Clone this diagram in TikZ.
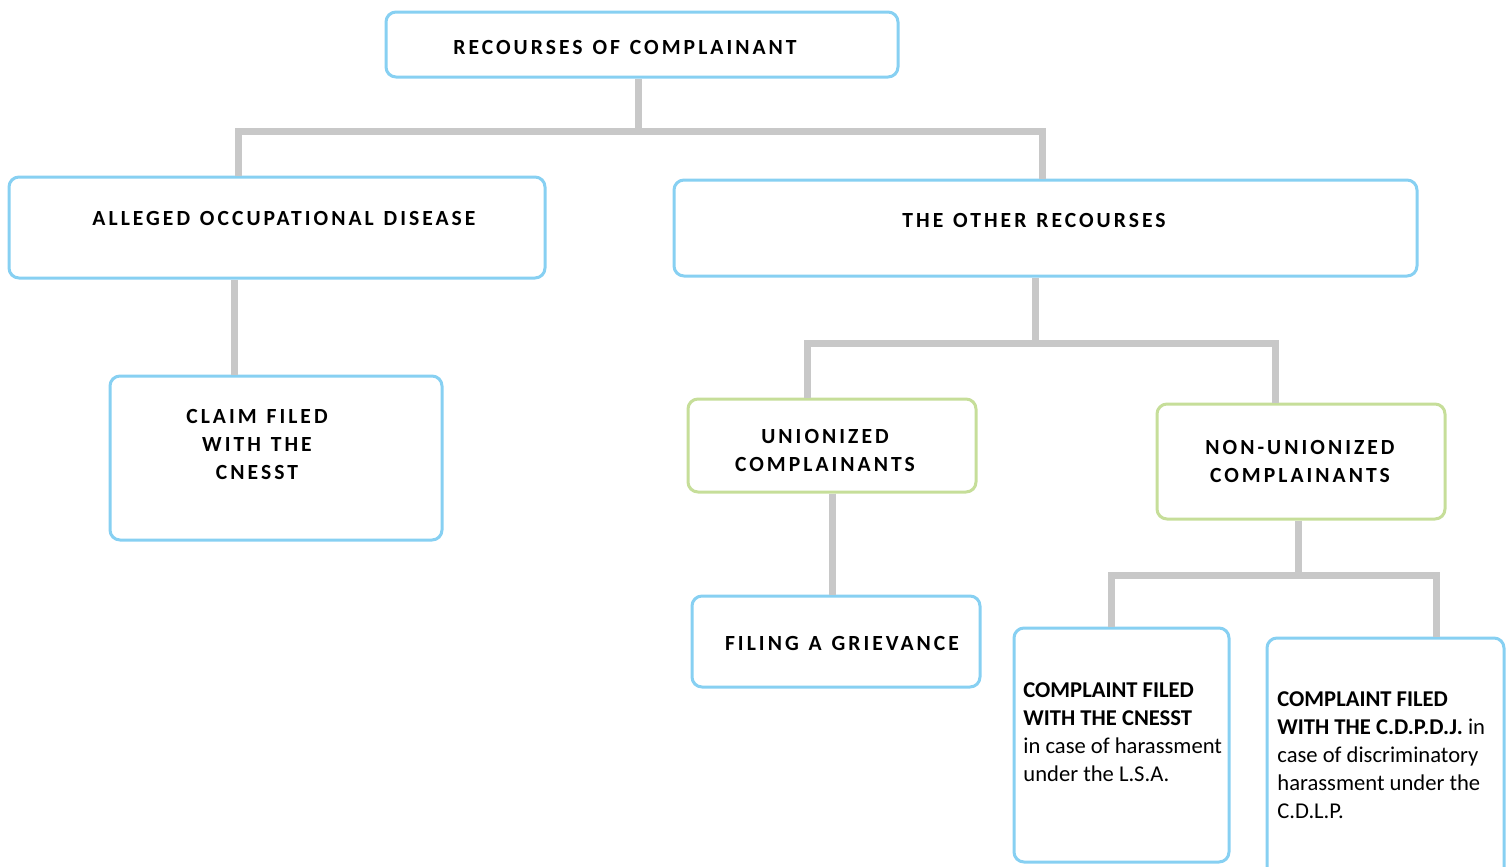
\documentclass[tikz,border=0pt]{standalone}
\usepackage{fontspec}
\setmainfont{Carlito}
\newfontfamily\spaced[LetterSpace=14, WordSpace=1.25]{Carlito}
\definecolor{boxblue}{RGB}{135,208,242}
\definecolor{boxgreen}{RGB}{198,222,153}
\definecolor{linkgrey}{RGB}{200,200,200}

\tikzset{
  box/.style={draw=boxblue, line width=1.5pt, rounded corners=5pt, fill=white, inner sep=0pt},
  greenbox/.style={box, draw=boxgreen},
  head/.style={font=\spaced\fontsize{10.8}{14}\selectfont\bfseries, align=center, inner sep=0pt},
  body/.style={font=\fontsize{11.3}{14}\selectfont, align=left, anchor=north west, inner sep=0pt},
  link/.style={draw=linkgrey, line width=3.5pt}
}

\begin{document}
\begin{tikzpicture} [x=0.5pt, y=-0.5pt]
\useasboundingbox (0,0) rectangle (1506,867);
\node[box, minimum width=256pt, minimum height=32.5pt] (top) at (642, 44.5){};
\node[box, minimum width=268pt, minimum height=50.5pt] (alleged) at (277, 227.5){};
\node[box, minimum width=371.5pt, minimum height=48pt] (other) at (1045.5, 228){};
\node[box, minimum width=166pt, minimum height=82pt] (claim) at (276, 458){};
\node[greenbox, minimum width=144pt, minimum height=46.5pt] (union) at (832, 445.5){};
\node[greenbox, minimum width=144pt, minimum height=57.5pt] (nonunion) at (1301, 461.5){};
\node[box, minimum width=144pt, minimum height=45.5pt] (grievance) at (836, 641.5){};
\node[box, minimum width=107.5pt, minimum height=117pt] (cnesst) at (1121.5, 745){};
\node[box, minimum width=118.5pt, minimum height=120pt] (cdpdj) at (1385.5, 758){};

\node[head] (topT) at (625, 47){RECOURSES OF COMPLAINANT};
\node[head] (allegedT) at (284, 218){ALLEGED OCCUPATIONAL DISEASE};
\node[head] (otherT) at (1034, 220){THE OTHER RECOURSES};
\node[head] (claimT) at (257, 444){CLAIM FILED\\WITH THE\\CNESST};
\node[head] (unionT) at (825, 450){UNIONIZED\\COMPLAINANTS};
\node[head] (nonunionT) at (1300, 461){NON-UNIONIZED\\COMPLAINANTS};
\node[head] (grievanceT) at (842, 643){FILING A GRIEVANCE};
\node[body] (cnesstT) at (1023, 682){\textbf{COMPLAINT FILED}\\\textbf{WITH THE CNESST}\\in case of harassment\\under the L.S.A.};
\node[body] (cdpdjT) at (1277, 691){\textbf{COMPLAINT FILED}\\\textbf{WITH THE C.D.P.D.J.} in\\case of discriminatory\\harassment under the\\C.D.L.P.};

\draw[link] (top.south -| 638,0) -- (638,131) -| (alleged.north -| 238,0);
\draw[link] (638,131) -| (other.north -| 1042,0);
\draw[link] (alleged.south -| 234,0) -- (claim.north -| 234,0);
\draw[link] (other.south -| 1035,0) -- (1035,343) -| (union.north -| 807,0);
\draw[link] (1035,343) -| (nonunion.north -| 1275,0);
\draw[link] (union.south -| 832,0) -- (grievance.north -| 832,0);
\draw[link] (nonunion.south -| 1298,0) -- (1298,575) -| (cnesst.north -| 1111,0);
\draw[link] (1298,575) -| (cdpdj.north -| 1436,0);
\end{tikzpicture}
\end{document}
